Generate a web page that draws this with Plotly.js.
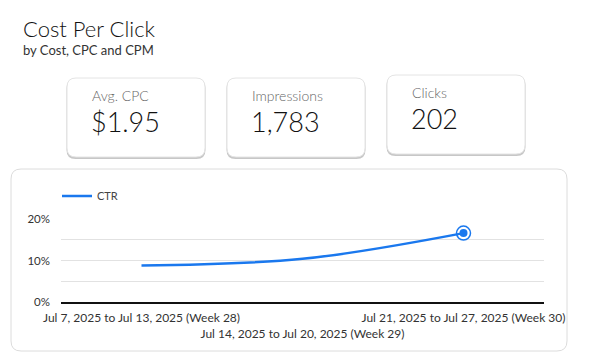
<!DOCTYPE html>
<html>
<head>
<meta charset="utf-8">
<script src="https://cdn.plot.ly/plotly-3.0.1.min.js"></script>
<style>html,body{margin:0;padding:0;background:#fff;}#chart{width:594px;height:362px;}</style>
</head>
<body>
<div id="chart"></div>
<script>
// ---- data ----
const categories = [
  "Jul 7, 2025 to Jul 13, 2025 (Week 28)",
  "Jul 14, 2025 to Jul 20, 2025 (Week 29)",
  "Jul 21, 2025 to Jul 27, 2025 (Week 30)"
];
const tickLabels = [
  "Jul 7, 2025 to Jul 13, 2025 (Week 28)",
  "<br>Jul 14, 2025 to Jul 20, 2025 (Week 29)",
  "Jul 21, 2025 to Jul 27, 2025 (Week 30)"
];
const ctrValues = [0.088, 0.104, 0.166];
const kpiLabels = ["Avg. CPC", "Impressions", "Clicks"];
const kpiValues = ["$1.95", "1,783", "202"];
const titleText = "Cost Per Click";
const subtitleText = "by Cost, CPC and CPM";

// ---- geometry helpers (pixel -> paper) ----
const W = 594, H = 362;
const M = {l: 61, r: 50, t: 219, b: 60};
const PW = W - M.l - M.r, PH = H - M.t - M.b;
const px = x => (x - M.l) / PW;
const py = y => (H - M.b - y) / PH;
function roundRect(x0, y0, x1, y1, r) {
  const p = (x, y) => px(x) + "," + py(y);
  return "M" + p(x0 + r, y0) + " L" + p(x1 - r, y0) + " Q" + p(x1, y0) + " " + p(x1, y0 + r) +
    " L" + p(x1, y1 - r) + " Q" + p(x1, y1) + " " + p(x1 - r, y1) +
    " L" + p(x0 + r, y1) + " Q" + p(x0, y1) + " " + p(x0, y1 - r) +
    " L" + p(x0, y0 + r) + " Q" + p(x0, y0) + " " + p(x0 + r, y0) + " Z";
}

const FONT = "Lato, 'Open Sans', sans-serif";
const BLUE = "#1a78ee";

const cards = [
  {x0: 67, y0: 78, x1: 205, y1: 157},
  {x0: 227, y0: 78, x1: 365, y1: 157},
  {x0: 387, y0: 75, x1: 525, y1: 154}
];

const shapes = [];
const annotations = [];
// chart panel
shapes.push({type: "path", xref: "paper", yref: "paper", layer: "below",
  path: roundRect(11, 169, 567, 351, 10), line: {color: "#dcdcdc", width: 1}, fillcolor: "#ffffff"});
cards.forEach((c, i) => {
  shapes.push({type: "path", xref: "paper", yref: "paper",
    path: roundRect(c.x0 - 0.5, c.y0 + 1, c.x1 + 0.5, c.y1 + 2, 9),
    line: {width: 0}, fillcolor: "rgba(0,0,0,0.22)"});
  shapes.push({type: "path", xref: "paper", yref: "paper",
    path: roundRect(c.x0, c.y0, c.x1, c.y1, 9),
    line: {color: "#e4e4e4", width: 1}, fillcolor: "#ffffff"});
  annotations.push({xref: "paper", yref: "paper", x: px(c.x0 + 23), y: py(c.y0 + 17),
    xanchor: "left", yanchor: "middle", showarrow: false, text: kpiLabels[i],
    font: {family: FONT, size: 14, weight: 300, color: "#666666"}});
  annotations.push({xref: "paper", yref: "paper", x: px(c.x0 + 22), y: py(c.y0 + 43),
    xanchor: "left", yanchor: "middle", showarrow: false, text: kpiValues[i],
    font: {family: FONT, size: 27, weight: 300, color: "#111111"}});
});
// subtitle
annotations.push({xref: "paper", yref: "paper", x: px(21), y: py(50),
  xanchor: "left", yanchor: "middle", showarrow: false, text: subtitleText,
  font: {family: FONT, size: 13, weight: 400, color: "#333333"}});

const last = ctrValues.length - 1;
const traces = [
  {type: "scatter", mode: "lines", name: "CTR", x: categories, y: ctrValues,
   line: {color: BLUE, width: 2.5, shape: "spline"}, hoverinfo: "skip"},
  {type: "scatter", mode: "markers", x: [categories[last]], y: [ctrValues[last]], showlegend: false,
   marker: {symbol: "circle-open", size: 14, color: BLUE, line: {width: 1.5}}, hoverinfo: "skip"},
  {type: "scatter", mode: "markers", x: [categories[last]], y: [ctrValues[last]], showlegend: false,
   marker: {symbol: "circle", size: 8, color: BLUE}, hoverinfo: "skip"}
];

const layout = {
  width: W, height: H,
  margin: M,
  paper_bgcolor: "#ffffff", plot_bgcolor: "rgba(0,0,0,0)",
  font: {family: FONT, color: "#333333"},
  title: {text: titleText, x: 23 / W, xanchor: "left", xref: "container",
    y: 1 - 29 / H, yanchor: "middle", yref: "container",
    font: {family: FONT, size: 22, weight: 300, color: "#111111"}},
  showlegend: true,
  legend: {x: px(57), xanchor: "left", y: py(196), yanchor: "middle", orientation: "h",
    font: {family: FONT, size: 11, color: "#444444"}, bgcolor: "rgba(0,0,0,0)", itemwidth: 30},
  xaxis: {type: "category", range: [-0.5, 2.5], tickvals: categories, ticktext: tickLabels,
    showgrid: false, zeroline: false, showline: true, linecolor: "#111111", linewidth: 1.5,
    ticks: "", ticklabelstandoff: 4, tickfont: {family: FONT, size: 12, color: "#333333"},
    tickangle: 0, fixedrange: true},
  yaxis: {range: [0, 0.2], dtick: 0.1, tickformat: ".0%", showgrid: true, gridcolor: "#e2e2e2",
    minor: {dtick: 0.05, showgrid: true, gridcolor: "#e2e2e2"},
    zeroline: false, showline: false, ticks: "", ticklabelstandoff: 10,
    tickfont: {family: FONT, size: 11.5, color: "#333333"}, fixedrange: true},
  shapes: shapes,
  annotations: annotations
};

Plotly.newPlot("chart", traces, layout, {displayModeBar: false, staticPlot: true});
</script>
</body>
</html>
